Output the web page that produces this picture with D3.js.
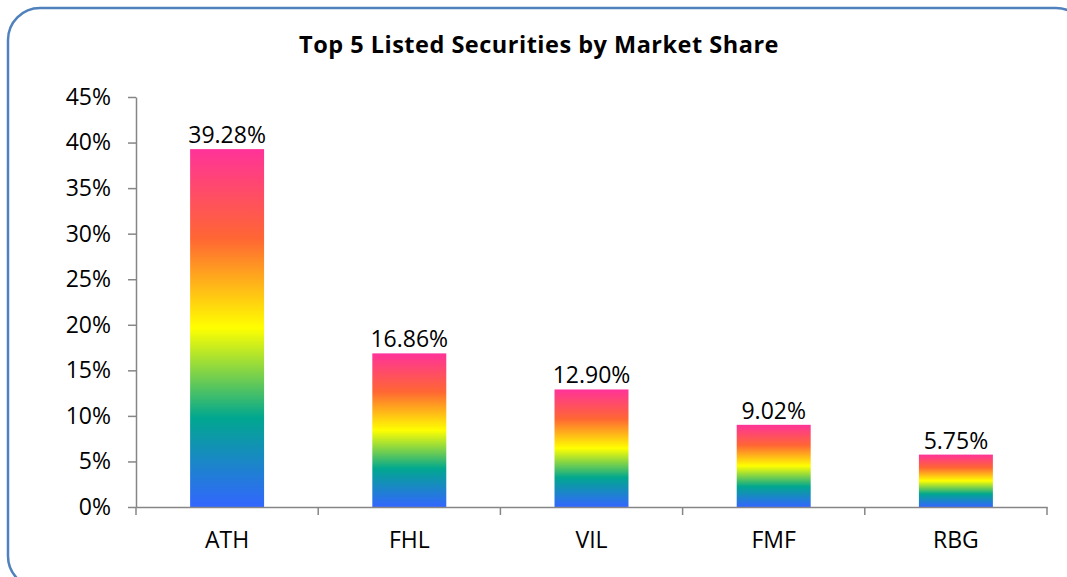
<!DOCTYPE html>
<html><head><meta charset="utf-8">
<script src="https://cdn.jsdelivr.net/npm/d3@7"></script>
<style>html,body{margin:0;padding:0;background:#fff;}svg{display:block;}</style>
</head><body>
<svg id="c" width="1067" height="577"></svg>
<script>
const categories = ["ATH", "FHL", "VIL", "FMF", "RBG"];
const shares = [39.28, 16.86, 12.90, 9.02, 5.75];
const yTicks = [0, 5, 10, 15, 20, 25, 30, 35, 40, 45];
const title = "Top 5 Listed Securities by Market Share";

const svg = d3.select("#c");
const font = "'Open Sans', sans-serif";
const m = {left: 136, right: 1047, top: 97, bottom: 507};

// frame
svg.append("rect").attr("x", 8).attr("y", 8).attr("width", 1080).attr("height", 580)
  .attr("rx", 32).attr("ry", 32).attr("fill", "#fff").attr("stroke", "#4F81BD").attr("stroke-width", 2.5);

const defs = svg.append("defs");
const grad = defs.append("linearGradient").attr("id", "rainbow")
  .attr("x1", 0).attr("y1", 0).attr("x2", 0).attr("y2", 1);
[["0%", "#FF3399"], ["25%", "#FF6633"], ["50%", "#FFFF00"], ["75%", "#01A78F"], ["100%", "#3366FF"]]
  .forEach(([o, c]) => grad.append("stop").attr("offset", o).attr("stop-color", c));

const x = d3.scaleBand().domain(categories).range([m.left, m.right]).paddingInner(0).paddingOuter(0);
const y = d3.scaleLinear().domain([0, 45]).range([m.bottom, m.top]);

svg.append("text").attr("x", 539).attr("y", 53).attr("text-anchor", "middle")
  .attr("font-family", font).attr("font-weight", "bold").attr("font-size", 23.5)
  .attr("letter-spacing", 0.5).text(title);

// y axis
const ya = svg.append("g").attr("transform", `translate(${m.left},0)`)
  .call(d3.axisLeft(y).tickValues(yTicks).tickFormat(d => d + "%").tickSize(8).tickSizeOuter(0).tickPadding(17));
ya.select(".domain").attr("stroke", "#868686").attr("stroke-width", 1.5);
ya.selectAll(".tick line").attr("stroke", "#868686").attr("stroke-width", 1.5);
ya.selectAll("text").attr("font-family", font).attr("font-size", 23).attr("fill", "#000");

// bars
const bw = x.step() * 0.406;
svg.selectAll("rect.bar").data(shares).enter().append("rect").attr("class", "bar")
  .attr("x", (d, i) => x(categories[i]) + x.step() / 2 - bw / 2)
  .attr("width", bw)
  .attr("y", d => y(d)).attr("height", d => y(0) - y(d))
  .attr("fill", "url(#rainbow)");

svg.selectAll("text.lbl").data(shares).enter().append("text").attr("class", "lbl")
  .attr("x", (d, i) => x(categories[i]) + x.step() / 2)
  .attr("y", d => y(d) - 6).attr("text-anchor", "middle")
  .attr("font-family", font).attr("font-size", 23).text(d => d.toFixed(2) + "%");

// x axis
const xa = svg.append("g").attr("transform", `translate(0,${m.bottom})`)
  .call(d3.axisBottom(x).tickSize(0).tickPadding(25));
xa.select(".domain").attr("stroke", "#868686").attr("stroke-width", 1.5);
xa.selectAll("text").attr("font-family", font).attr("font-size", 23).attr("fill", "#000");
const bounds = categories.map(c => x(c)).concat([m.right]);
svg.selectAll("line.xt").data(bounds).enter().append("line").attr("class", "xt")
  .attr("x1", d => d).attr("x2", d => d).attr("y1", m.bottom).attr("y2", m.bottom + 8)
  .attr("stroke", "#868686").attr("stroke-width", 1.5);
</script>
</body></html>
